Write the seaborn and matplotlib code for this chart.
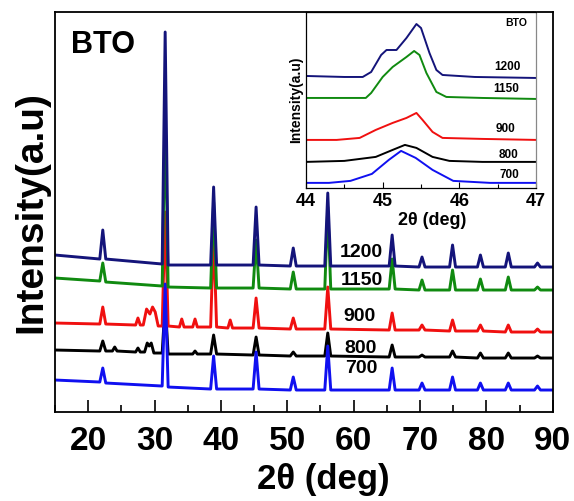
import pandas as pd
import seaborn as sns
import matplotlib.pyplot as plt
from matplotlib.ticker import MultipleLocator

sns.set_style('ticks')
plt.rcParams['font.family'] = ['Liberation Sans', 'DejaVu Sans']
plt.rcParams['font.weight'] = 'bold'
for k in ['text.color', 'axes.labelcolor', 'xtick.color', 'ytick.color', 'axes.edgecolor']:
    plt.rcParams[k] = 'black'

# ---- main pattern (2theta, intensity a.u. with offsets)
x_main = [15, 21.75, 22.2, 22.65, 31.15, 31.6, 32.05, 38.45, 38.9, 39.35,
          44.85, 45.3, 45.75, 50.45, 50.9, 51.35, 55.65, 56.1, 56.55,
          65.35, 65.8, 66.25, 69.85, 70.3, 70.75, 74.45, 74.9, 75.35,
          78.65, 79.1, 79.55, 82.85, 83.3, 83.75, 87.25, 87.7, 88.15, 90]

y_1200 = [157, 153, 182, 153, 148, 380, 147, 147, 225, 147,
          147, 205, 147, 146, 164, 146, 146, 219, 146,
          146, 177, 146, 145, 155, 145, 145, 167, 145,
          145, 157, 145, 145, 159, 145, 145, 149, 145, 145]

y_1150 = [134, 131, 149, 130, 126, 300, 125, 124, 210, 124,
          124, 172, 124, 123, 140, 123, 123, 205, 123,
          123, 153, 123, 122, 132, 122, 122, 142, 122,
          122, 133, 122, 122, 135, 122, 122, 125, 122, 122]

y_700 = [32, 30, 44, 29, 26, 128, 25, 23, 56, 23,
         23, 60, 23, 22, 35, 22, 22, 66, 22,
         22, 44, 22, 22, 29, 22, 22, 35, 22,
         22, 29, 22, 22, 29, 22, 22, 26, 22, 22]

x_900 = [15, 21.75, 22.2, 22.65, 27.15, 27.5, 27.85,
         28.3, 28.8, 29.3, 29.7, 30.1, 30.55,
         31.15, 31.6, 32.05, 33.75, 34.1, 34.45, 35.75, 36.1, 36.45,
         38.45, 38.9, 39.35, 41.05, 41.4, 41.75,
         44.85, 45.3, 45.75, 50.45, 50.9, 51.35, 55.65, 56.1, 56.55,
         65.35, 65.8, 66.25, 69.85, 70.3, 70.75, 74.45, 74.9, 75.35,
         78.65, 79.1, 79.55, 82.85, 83.3, 83.75, 87.25, 87.7, 88.15, 90]
y_900 = [89, 88, 105, 88, 87, 94, 87,
         87, 103, 98, 105, 100, 86,
         86, 200, 86, 85, 93, 85, 85, 93, 85,
         85, 180, 85, 84, 92, 84,
         84, 114, 84, 83, 94, 83, 83, 125, 83,
         82, 99, 82, 82, 87, 82, 81, 92, 81,
         81, 87, 81, 80, 87, 80, 80, 83, 80, 80]

x_800 = [15, 21.75, 22.2, 22.65, 23.65, 24.0, 24.35, 27.15, 27.5, 27.85,
         28.5, 28.9, 29.2, 29.5, 29.9,
         31.15, 31.6, 32.05, 35.75, 36.1, 36.45,
         38.45, 38.9, 39.35, 44.85, 45.3, 45.75, 50.45, 50.9, 51.35,
         55.65, 56.1, 56.55, 65.35, 65.8, 66.25, 69.85, 70.3, 70.75,
         74.45, 74.9, 75.35, 78.65, 79.1, 79.55, 82.85, 83.3, 83.75,
         87.25, 87.7, 88.15, 90]
y_800 = [62, 61, 71, 61, 61, 65, 61, 60, 64, 60,
         60, 69, 66, 69, 59,
         59, 110, 58, 58, 61, 58,
         58, 77, 58, 57, 75, 57, 56, 60, 56,
         56, 79, 56, 55, 67, 55, 55, 57, 55,
         55, 61, 55, 54, 59, 54, 54, 59, 54,
         54, 56, 54, 54]

# ---- inset: 44-47 deg region
xi_1200 = [44.0, 44.5, 44.74, 44.85, 44.98, 45.05, 45.18, 45.31, 45.44, 45.5, 45.61, 45.7, 45.78, 46.2, 47.0]
yi_1200 = [112, 111, 111, 116, 133, 138, 138, 150, 164, 160, 135, 118, 113, 111, 110]

xi_1150 = [44.0, 44.5, 44.78, 44.85, 45.0, 45.13, 45.31, 45.41, 45.48, 45.57, 45.7, 45.83, 46.3, 47.0]
yi_1150 = [90, 90, 90, 95, 111, 121, 131, 137, 133, 115, 96, 91, 90, 89]

xi_900 = [44.0, 44.4, 44.7, 44.91, 45.13, 45.31, 45.44, 45.52, 45.65, 45.78, 46.3, 47.0]
yi_900 = [48, 48, 50, 58, 65, 70, 75, 68, 56, 50, 49, 48]

xi_800 = [44.0, 44.5, 44.91, 45.13, 45.29, 45.44, 45.65, 45.87, 46.3, 47.0]
yi_800 = [26, 27, 31, 38, 43, 40, 31, 27, 26, 26]

xi_700 = [44.0, 44.3, 44.58, 44.86, 45.08, 45.24, 45.43, 45.65, 45.92, 46.4, 47.0]
yi_700 = [5, 5, 7, 14, 28, 37, 30, 18, 7, 5, 5]

colors = {'700': '#1010f0', '800': '#000000', '900': '#f01010',
          '1150': '#108a10', '1200': '#14147a'}

main_curves = {'700': (x_main, y_700), '800': (x_800, y_800), '900': (x_900, y_900),
               '1150': (x_main, y_1150), '1200': (x_main, y_1200)}
inset_curves = {'700': (xi_700, yi_700), '800': (xi_800, yi_800), '900': (xi_900, yi_900),
                '1150': (xi_1150, yi_1150), '1200': (xi_1200, yi_1200)}

# label positions (2theta, intensity)
main_lab = {'1200': (61.2, 160), '1150': (61.2, 132), '900': (60.9, 96),
            '800': (61.1, 64), '700': (61.1, 44)}
inset_lab = {'1200': (46.62, 121), '1150': (46.61, 99), '900': (46.6, 59),
             '800': (46.64, 33), '700': (46.65, 13)}

fig = plt.figure(figsize=(5.74, 5.01), dpi=100)
ax = fig.add_axes([0.0958, 0.1776, 0.8672, 0.7984])

# draw order as it appears in the figure
order = ['800', '900', '700', '1150', '1200']
for t in order:
    xs, ys = main_curves[t]
    df = pd.DataFrame({'x': xs, 'y': ys})
    sns.lineplot(data=df, x='x', y='y', ax=ax, color=colors[t], lw=2.1,
                 sort=False, estimator=None)

for t, (lx, ly) in main_lab.items():
    ax.text(lx, ly, t, fontsize=14, fontweight='bold', ha='center', va='center')
ax.text(22.2, 367, 'BTO', fontsize=22, fontweight='bold', ha='center', va='center')

ax.set_xlim(15, 90)
ax.set_ylim(0, 400)
ax.xaxis.set_major_locator(MultipleLocator(10))
ax.xaxis.set_minor_locator(MultipleLocator(5))
ax.set_yticks([])
ax.tick_params(axis='x', which='major', direction='in', length=9, width=1.2,
               labelsize=24, pad=10)
ax.tick_params(axis='x', which='minor', direction='in', length=5, width=1.2)
for lab in ax.get_xticklabels():
    lab.set_fontweight('bold')
for s in ax.spines.values():
    s.set_linewidth(1.3)
ax.set_xlabel('2\u03b8 (deg)', fontsize=25, fontweight='bold')
ax.xaxis.set_label_coords(0.54, -0.128)
ax.set_ylabel('Intensity(a.u)', fontsize=28, fontweight='bold')
ax.yaxis.set_label_coords(-0.012, 0.5)

# inset
axi = fig.add_axes([0.533, 0.625, 0.401, 0.351])
axi.set_facecolor('white')
for t in order:
    xs, ys = inset_curves[t]
    df = pd.DataFrame({'x': xs, 'y': ys})
    sns.lineplot(data=df, x='x', y='y', ax=axi, color=colors[t], lw=1.4,
                 sort=False, estimator=None)
for t, (lx, ly) in inset_lab.items():
    axi.text(lx, ly, t, fontsize=8.5, fontweight='bold', ha='center', va='center')
axi.text(46.74, 165, 'BTO', fontsize=7.5, fontweight='bold', ha='center', va='center')
axi.set_xlim(44, 47)
axi.set_ylim(0, 176)
axi.xaxis.set_major_locator(MultipleLocator(1))
axi.xaxis.set_minor_locator(MultipleLocator(0.5))
axi.set_yticks([])
axi.tick_params(axis='x', which='major', direction='in', length=4, width=0.8,
                labelsize=13, pad=4)
axi.tick_params(axis='x', which='minor', direction='in', length=3, width=0.8)
for lab in axi.get_xticklabels():
    lab.set_fontweight('bold')
for s in axi.spines.values():
    s.set_linewidth(0.9)
axi.spines['right'].set_color('#888888')
axi.set_xlabel('2\u03b8 (deg)', fontsize=13, fontweight='bold')
axi.xaxis.set_label_coords(0.55, -0.14)
axi.set_ylabel('Intensity(a.u)', fontsize=10, fontweight='bold', labelpad=2)

fig.savefig('out.png', dpi=100)
